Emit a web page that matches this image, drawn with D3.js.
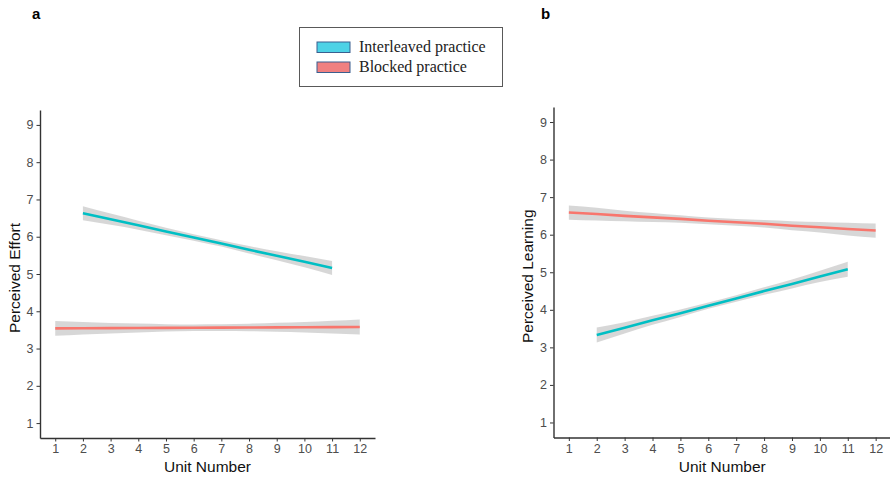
<!DOCTYPE html>
<html><head><meta charset="utf-8">
<script src="https://cdn.jsdelivr.net/npm/d3@7"></script>
<style>body{margin:0;background:#fff}svg{display:block}</style>
</head><body>
<svg id="c" width="890" height="477"></svg>
<script>
// ---- data ----
const xTicks = [1,2,3,4,5,6,7,8,9,10,11,12];
const yTicks = [1,2,3,4,5,6,7,8,9];

// Panel a: Perceived Effort
const effortInterX   = [2,3,4,5,6,7,8,9,10,11];
const effortInterFit = [6.63,6.47,6.31,6.14,5.98,5.82,5.65,5.49,5.33,5.16];
const effortInterLo  = [6.44,6.32,6.19,6.04,5.895,5.735,5.55,5.37,5.18,4.97];
const effortInterHi  = [6.82,6.62,6.43,6.24,6.065,5.905,5.75,5.61,5.48,5.35];
const effortBlockX   = [1,2,3,4,5,6,7,8,9,10,11,12];
const effortBlockFit = [3.54,3.544,3.547,3.551,3.555,3.558,3.562,3.565,3.569,3.573,3.576,3.58];
const effortBlockLo  = [3.34,3.374,3.407,3.431,3.455,3.468,3.472,3.465,3.449,3.433,3.406,3.38];
const effortBlockHi  = [3.74,3.714,3.687,3.671,3.655,3.648,3.652,3.665,3.689,3.713,3.746,3.78];

// Panel b: Perceived Learning
const learnInterX    = [2,3,4,5,6,7,8,9,10,11];
const learnInterFit  = [3.33,3.52,3.72,3.91,4.11,4.30,4.50,4.69,4.89,5.08];
const learnInterLo   = [3.13,3.37,3.60,3.81,4.025,4.215,4.40,4.57,4.74,4.88];
const learnInterHi   = [3.53,3.67,3.84,4.01,4.195,4.385,4.60,4.81,5.04,5.28];
const learnBlockX    = [1,2,3,4,5,6,7,8,9,10,11,12];
const learnBlockFit  = [6.59,6.55,6.50,6.46,6.42,6.37,6.33,6.29,6.24,6.20,6.15,6.11];
const learnBlockLo   = [6.40,6.38,6.36,6.34,6.32,6.28,6.24,6.19,6.12,6.06,5.98,5.92];
const learnBlockHi   = [6.78,6.72,6.64,6.58,6.52,6.46,6.42,6.39,6.36,6.34,6.32,6.30];

const seriesNames = ["Interleaved practice","Blocked practice"];

// ---- drawing ----
const svg = d3.select("#c");
const colInter = "#00BFC4", colBlock = "#F8766D", ribbon = "#d3d3d3";

function panel(opt){
  const g = svg.append("g");
  const x = d3.scaleLinear().domain([0.45,12.55]).range([opt.x0,opt.x1]);
  const y = d3.scaleLinear().domain([0.6,9.4]).range([opt.y1,opt.y0]);

  const mk = (xs,fit,lo,hi)=>xs.map((v,i)=>({x:v,f:fit[i],lo:lo[i],hi:hi[i]}));
  const area = d3.area().x(d=>x(d.x)).y0(d=>y(d.lo)).y1(d=>y(d.hi)).curve(d3.curveMonotoneX);
  const line = d3.line().x(d=>x(d.x)).y(d=>y(d.f));
  opt.series.forEach(s=>{
    const data = mk(s.x,s.fit,s.lo,s.hi);
    g.append("path").attr("d",area(data)).attr("fill",ribbon).attr("opacity",0.9);
  });
  opt.series.forEach(s=>{
    const data = mk(s.x,s.fit,s.lo,s.hi);
    g.append("path").attr("d",line(data)).attr("fill","none").attr("stroke",s.color).attr("stroke-width",2.6);
  });

  const xa = g.append("g").attr("transform",`translate(0,${opt.y1})`)
    .call(d3.axisBottom(x).tickValues(xTicks).tickSize(3.5).tickPadding(3).tickSizeOuter(0));
  const ya = g.append("g").attr("transform",`translate(${opt.x0},0)`)
    .call(d3.axisLeft(y).tickValues(yTicks).tickSize(3.5).tickPadding(3).tickSizeOuter(0));
  [xa,ya].forEach(a=>{
    a.select(".domain").attr("stroke","#333").attr("stroke-width",1.4);
    a.selectAll(".tick line").attr("stroke","#333");
    a.selectAll(".tick text").attr("fill","#4d4d4d").style("font-family","'Liberation Sans',Arial,sans-serif").style("font-size","12.5px");
  });

  g.append("text").attr("x",(x(1)+x(12))/2).attr("y",472)
    .attr("text-anchor","middle").style("font-family","'Liberation Sans',Arial,sans-serif")
    .style("font-size","15.5px").attr("fill","#111").text("Unit Number");
  g.append("text").attr("transform",`translate(${opt.ytx},${(opt.y0+opt.y1)/2+4}) rotate(-90)`)
    .attr("text-anchor","middle").style("font-family","'Liberation Sans',Arial,sans-serif")
    .style("font-size","15.5px").attr("fill","#111").text(opt.ytitle);
  g.append("text").attr("x",opt.lx).attr("y",19).style("font-family","'Liberation Sans',Arial,sans-serif")
    .style("font-weight","bold").style("font-size","15px").attr("fill","#000").text(opt.label);
}

panel({x0:40,x1:375,y0:110,y1:438,ytx:20,ytitle:"Perceived Effort",label:"a",lx:32,
  series:[
    {x:effortInterX,fit:effortInterFit,lo:effortInterLo,hi:effortInterHi,color:colInter},
    {x:effortBlockX,fit:effortBlockFit,lo:effortBlockLo,hi:effortBlockHi,color:colBlock}
  ]});
panel({x0:553.5,x1:891,y0:107,y1:437.5,ytx:533,ytitle:"Perceived Learning",label:"b",lx:541,
  series:[
    {x:learnBlockX,fit:learnBlockFit,lo:learnBlockLo,hi:learnBlockHi,color:colBlock},
    {x:learnInterX,fit:learnInterFit,lo:learnInterLo,hi:learnInterHi,color:colInter}
  ]});

// legend
const lg = svg.append("g");
lg.append("rect").attr("x",299.5).attr("y",27.5).attr("width",203).attr("height",59)
  .attr("fill","#fff").attr("stroke","#595959").attr("stroke-width",1);
const swCols = ["#4DD2E6","#F08080"];
seriesNames.forEach((n,i)=>{
  lg.append("rect").attr("x",317).attr("y",42+i*20).attr("width",33).attr("height",10.5)
    .attr("fill",swCols[i]).attr("stroke","#3a5f8f").attr("stroke-width",1);
  lg.append("text").attr("x",359).attr("y",52+i*20)
    .style("font-family","'Liberation Serif','Times New Roman',serif").style("font-size","16px")
    .attr("fill","#222").text(n);
});
</script>
</body></html>
